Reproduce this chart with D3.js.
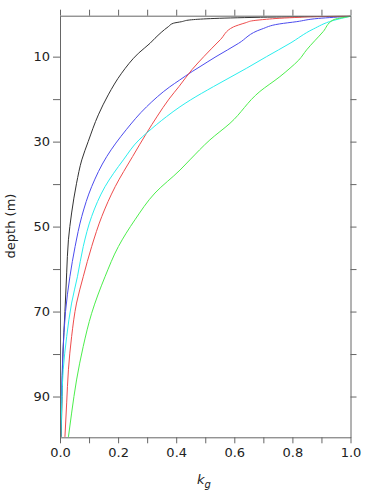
<!DOCTYPE html>
<html><head><meta charset="utf-8">
<script src="https://cdn.jsdelivr.net/npm/d3@7"></script>
<style>body{margin:0;background:#fff}svg text{font-family:"DejaVu Sans",sans-serif}</style>
</head><body><svg id="c" width="373" height="496"></svg>
<script>
const xTicks = [0,0.1,0.2,0.3,0.4,0.5,0.6,0.7,0.8,0.9,1.0];
const xTickLabels = ["0.0","","0.2","","0.4","","0.6","","0.8","","1.0"];
const yTicks = [10,20,30,40,50,60,70,80,90];
const yTickLabels = ["10","","30","","50","","70","","90"];

const depthBlack = [0.5,0.73,1.36,1.76,2.14,2.94,5.67,6.85,9.2,13.9,19.0,23.7,30,34.3,39.8,46.8,53.1,60.9,70,80,90,99.5];
const kBlack     = [1.0,0.69,0.447,0.419,0.39,0.373,0.327,0.31,0.27,0.212,0.166,0.132,0.097,0.075,0.057,0.040,0.029,0.023,0.017,0.010,0.007,0.004];

const depthBlue = [0.5,1.0,1.76,2.3,3.5,6.85,8.4,10,12.35,13.5,15.5,17.1,21.8,27.2,33.5,40.6,47.6,54.7,61.8,70,80,90,99.5];
const kBlue     = [1.0,0.89,0.815,0.755,0.695,0.615,0.577,0.537,0.482,0.455,0.412,0.378,0.298,0.228,0.161,0.109,0.075,0.052,0.034,0.019,0.010,0.005,0.002];

const depthRed = [0.5,0.59,0.73,0.96,1.2,1.53,2.0,2.54,3.0,6.0,10,13.0,17.0,20.0,24.0,28.0,33.5,40.6,47.6,54.7,61.8,68.0,75.9,83.7,91.5,99.5];
const kRed     = [1.0,0.87,0.826,0.757,0.711,0.665,0.64,0.615,0.597,0.552,0.495,0.455,0.41,0.375,0.335,0.298,0.250,0.190,0.144,0.109,0.080,0.057,0.040,0.029,0.023,0.017];

const depthCyan = [0.5,1.5,3.5,6.85,10,12.7,17.06,20.2,21.8,24.1,28.0,29.6,34.3,40.6,47.6,54.7,61.8,68.0,75.9,83.7,91.5,99.5];
const kCyan     = [1.0,0.94,0.872,0.792,0.711,0.643,0.528,0.449,0.413,0.367,0.298,0.272,0.218,0.155,0.109,0.080,0.060,0.040,0.023,0.011,0.006,0.003];

const depthGreen = [0.5,1.36,4.1,8.4,10.8,12.7,14.7,18.2,25.7,29.6,34.3,36.7,42.1,48.4,54.7,61.8,70.4,78.2,86.1,93.9,99.5];
const kGreen     = [1.0,0.94,0.906,0.849,0.822,0.792,0.757,0.688,0.585,0.516,0.447,0.413,0.327,0.258,0.201,0.155,0.109,0.080,0.057,0.040,0.029];

const seriesNames = ["black","blue","red","cyan","green"];
const seriesColors = ["#333333","#4c4cee","#ee4c4c","#2aeeee","#4cee4c"];

const svg = d3.select("#c");
const L = 60, R = 350.5, T = 15.7, B = 437.3;
const x = d3.scaleLinear().domain([0,1]).range([L,R]);
const y = d3.scaleLinear().domain([0.36,99.6]).range([T,B]);
const axisCol = "#666";

const series = [
  [depthBlack,kBlack],[depthBlue,kBlue],[depthRed,kRed],[depthCyan,kCyan],[depthGreen,kGreen]
];
const line = d3.line().x(d=>x(d[1])).y(d=>y(d[0])).curve(d3.curveMonotoneY);
series.forEach((s,i)=>{
  const pts = s[0].map((d,j)=>[d,s[1][j]]);
  svg.append("path").attr("d",line(pts)).attr("fill","none")
    .attr("stroke",seriesColors[i]).attr("stroke-width",1);
});

function styleAxis(g){
  g.select(".domain").attr("stroke",axisCol);
  g.selectAll(".tick line").attr("stroke",axisCol);
  g.selectAll(".tick text").attr("fill","#222").style("font-size","13px");
}
svg.append("g").attr("transform",`translate(0,${B})`)
  .call(d3.axisBottom(x).tickValues(xTicks).tickSize(6).tickSizeOuter(0).tickPadding(4)
    .tickFormat((d,i)=>xTickLabels[i])).call(styleAxis);
svg.append("g").attr("transform",`translate(0,${T})`)
  .call(d3.axisTop(x).tickValues(xTicks).tickSize(6).tickSizeOuter(0).tickFormat(""))
  .call(styleAxis);
svg.append("g").attr("transform",`translate(${L},0)`)
  .call(d3.axisLeft(y).tickValues(yTicks).tickSize(7).tickSizeOuter(0).tickPadding(3)
    .tickFormat((d,i)=>yTickLabels[i])).call(styleAxis);
svg.append("g").attr("transform",`translate(${R},0)`)
  .call(d3.axisRight(y).tickValues(yTicks).tickSize(6).tickSizeOuter(0).tickFormat(""))
  .call(styleAxis);

svg.append("text").attr("transform",`translate(15,226) rotate(-90)`)
  .attr("text-anchor","middle").style("font-size","13px").attr("fill","#222").text("depth (m)");
const xl = svg.append("text").attr("x",197).attr("y",484).style("font-size","13px").attr("fill","#222");
xl.append("tspan").style("font-style","italic").text("k");
xl.append("tspan").attr("dy",4).style("font-style","italic").style("font-size","10px").text("g");
</script></body></html>
